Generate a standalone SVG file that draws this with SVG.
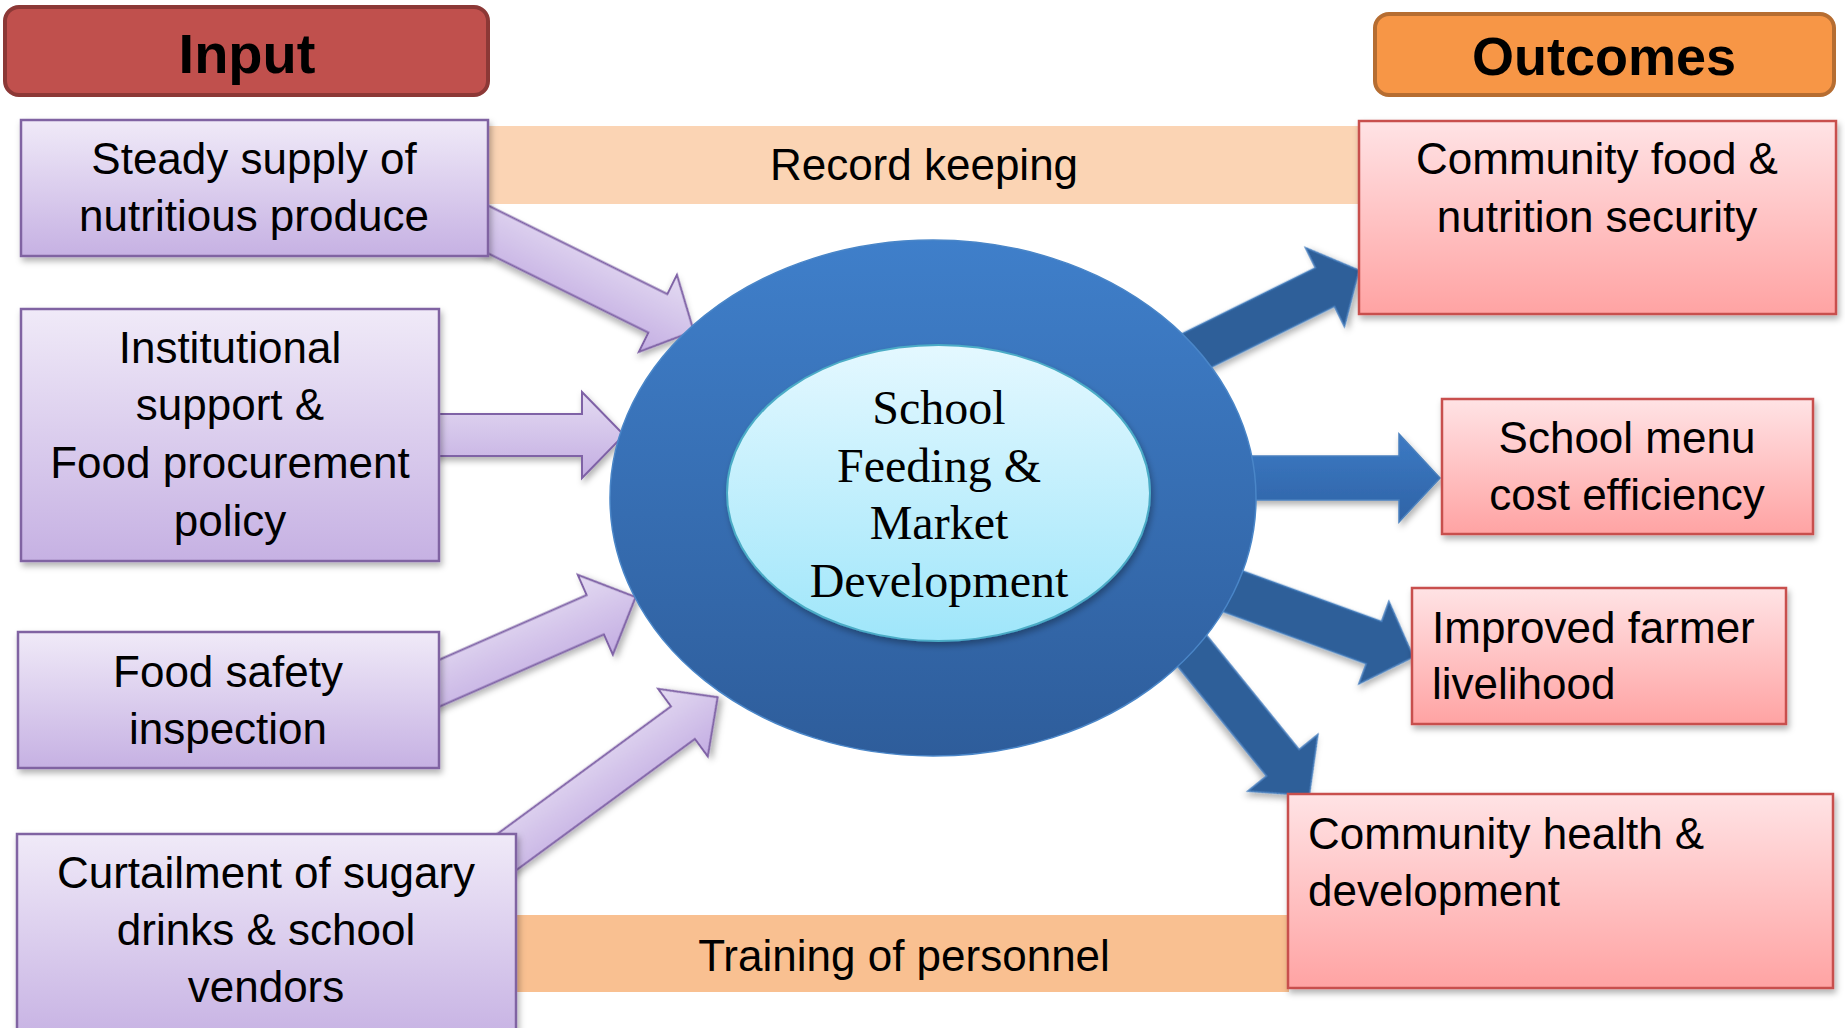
<svg xmlns="http://www.w3.org/2000/svg" width="1845" height="1028" viewBox="0 0 1845 1028">
<defs>
  <linearGradient id="gIn" x1="0" y1="0" x2="0" y2="1">
    <stop offset="0" stop-color="#F0EAF8"/>
    <stop offset="1" stop-color="#C6B1E3"/>
  </linearGradient>
  <linearGradient id="gOut" x1="0" y1="0" x2="0" y2="1">
    <stop offset="0" stop-color="#FFE3E5"/>
    <stop offset="1" stop-color="#FFA3A3"/>
  </linearGradient>
  <linearGradient id="gArrP" x1="0" y1="0" x2="0" y2="1">
    <stop offset="0" stop-color="#E4DBF2"/>
    <stop offset="1" stop-color="#C3ADE2"/>
  </linearGradient>
  <linearGradient id="gArrB" x1="0" y1="0" x2="0" y2="1">
    <stop offset="0" stop-color="#3C7AC4"/>
    <stop offset="1" stop-color="#2F63A6"/>
  </linearGradient>
  <linearGradient id="gOuter" x1="0" y1="0" x2="0" y2="1">
    <stop offset="0" stop-color="#3F7FCA"/>
    <stop offset="1" stop-color="#2E5D9B"/>
  </linearGradient>
  <linearGradient id="gInner" x1="0" y1="0" x2="0" y2="1">
    <stop offset="0" stop-color="#E4F8FF"/>
    <stop offset="1" stop-color="#9FE6FA"/>
  </linearGradient>
  <filter id="sh" x="-10%" y="-10%" width="125%" height="130%">
    <feDropShadow dx="2" dy="4" stdDeviation="3" flood-color="#000" flood-opacity="0.3"/>
  </filter>
  <style>
    .t { font-family: "Liberation Sans", Arial, sans-serif; font-size: 44px; fill: #000; }
    .c { text-anchor: middle; }
    .hd { font-family: "Liberation Sans", Arial, sans-serif; font-weight: bold; fill: #000; text-anchor: middle; }
    .inbox { fill: url(#gIn); stroke: #8064A2; stroke-width: 2.5; filter: url(#sh); }
    .outbox { fill: url(#gOut); stroke: #C8504E; stroke-width: 2.5; filter: url(#sh); }
    .pa { fill: url(#gArrP); stroke: #7F62A6; stroke-width: 2; filter: url(#sh); }
    .ba { fill: #2D5E99; stroke: #4A80BE; stroke-width: 1.5; filter: url(#sh); }
    .serif { font-family: "Liberation Serif", "Times New Roman", serif; font-size: 48px; fill: #000; text-anchor: middle; }
  </style>
</defs>

<rect width="1845" height="1028" fill="#FFFFFF"/>

<!-- Bands -->
<g id="band-record">
  <rect x="488" y="126" width="871" height="78" fill="#FBD4B4"/>
  <text class="t c" x="924" y="180">Record keeping</text>
</g>
<g id="band-training">
  <rect x="517" y="915" width="772" height="77" fill="#F9C091"/>
  <text class="t c" x="904" y="971">Training of personnel</text>
</g>

<!-- Connectors -->
<g id="connectors">
  <polygon class="ba" transform="translate(1056,420) rotate(-26.3)" points="0,-21.5 300,-21.5 300,-44 338,0 300,44 300,21.5 0,21.5"/>
  <polygon class="ba" style="fill:url(#gArrB)" transform="translate(1000,478)" points="0,-22 399,-22 399,-44 440,0 399,44 399,22 0,22"/>
  <polygon class="ba" transform="translate(1092,540) rotate(20)" points="0,-22.4 300,-22.4 300,-44 342,0 300,44 300,22.4 0,22.4"/>
  <polygon class="ba" transform="translate(1125.5,568.5) rotate(51)" points="0,-21 250,-21 250,-45 292,0 250,45 250,21 0,21"/>

  <polygon class="pa" transform="translate(475,223) rotate(26.3)" points="0,-21.5 204,-21.5 204,-43 244,0 204,43 204,21.5 0,21.5"/>
  <polygon class="pa" transform="translate(430,435)" points="0,-21 152,-21 152,-43 194,0 152,43 152,21 0,21"/>
  <polygon class="pa" transform="translate(425,689.5) rotate(-23.7)" points="0,-21.5 186,-21.5 186,-43.5 230,0 186,43.5 186,21.5 0,21.5"/>
  <polygon class="pa" transform="translate(496,860) rotate(-36.3)" points="0,-20.3 232,-20.3 232,-42 275,0 232,42 232,20.3 0,20.3"/>
</g>

<!-- Center node -->
<g id="center">
  <ellipse cx="933" cy="498" rx="323" ry="258" fill="url(#gOuter)" stroke="#4A86C8" stroke-width="1.5"/>
  <ellipse cx="938.5" cy="493" rx="211.5" ry="148" fill="url(#gInner)" stroke="#4BACC6" stroke-width="2" filter="url(#sh)"/>
  <text class="serif" x="939" y="424">School</text>
  <text class="serif" x="939" y="482">Feeding &amp;</text>
  <text class="serif" x="939" y="539">Market</text>
  <text class="serif" x="939" y="597">Development</text>
</g>

<!-- Headers -->
<g id="hdr-input">
  <rect x="5" y="7" width="483" height="88" rx="14" fill="#C0504D" stroke="#8C3836" stroke-width="4"/>
  <text class="hd" x="247" y="73" font-size="56">Input</text>
</g>
<g id="hdr-outcomes">
  <rect x="1375" y="14" width="459" height="81" rx="14" fill="#F79646" stroke="#B66D31" stroke-width="4"/>
  <text class="hd" x="1604" y="75" font-size="54">Outcomes</text>
</g>

<!-- Input nodes -->
<g id="in-steady">
  <rect class="inbox" x="21" y="120" width="467" height="136"/>
  <text class="t c" x="254" y="174">Steady supply of</text>
  <text class="t c" x="254" y="231">nutritious produce</text>
</g>
<g id="in-institutional">
  <rect class="inbox" x="21" y="309" width="418" height="252"/>
  <text class="t c" x="230" y="363">Institutional</text>
  <text class="t c" x="230" y="420">support &amp;</text>
  <text class="t c" x="230" y="478">Food procurement</text>
  <text class="t c" x="230" y="536">policy</text>
</g>
<g id="in-safety">
  <rect class="inbox" x="18" y="632" width="421" height="136"/>
  <text class="t c" x="228" y="687">Food safety</text>
  <text class="t c" x="228" y="744">inspection</text>
</g>
<g id="in-curtail">
  <rect class="inbox" x="17" y="834" width="499" height="210"/>
  <text class="t c" x="266" y="888">Curtailment of sugary</text>
  <text class="t c" x="266" y="945">drinks &amp; school</text>
  <text class="t c" x="266" y="1002">vendors</text>
</g>

<!-- Outcome nodes -->
<g id="out-food">
  <rect class="outbox" x="1359" y="121" width="477" height="193"/>
  <text class="t c" x="1597" y="174">Community food &amp;</text>
  <text class="t c" x="1597" y="232">nutrition security</text>
</g>
<g id="out-menu">
  <rect class="outbox" x="1442" y="399" width="371" height="135"/>
  <text class="t c" x="1627" y="453">School menu</text>
  <text class="t c" x="1627" y="510">cost efficiency</text>
</g>
<g id="out-farmer">
  <rect class="outbox" x="1412" y="588" width="374" height="136"/>
  <text class="t" x="1432" y="643">Improved farmer</text>
  <text class="t" x="1432" y="699">livelihood</text>
</g>
<g id="out-health">
  <rect class="outbox" x="1288" y="794" width="545" height="194"/>
  <text class="t" x="1308" y="849">Community health &amp;</text>
  <text class="t" x="1308" y="906">development</text>
</g>
</svg>
